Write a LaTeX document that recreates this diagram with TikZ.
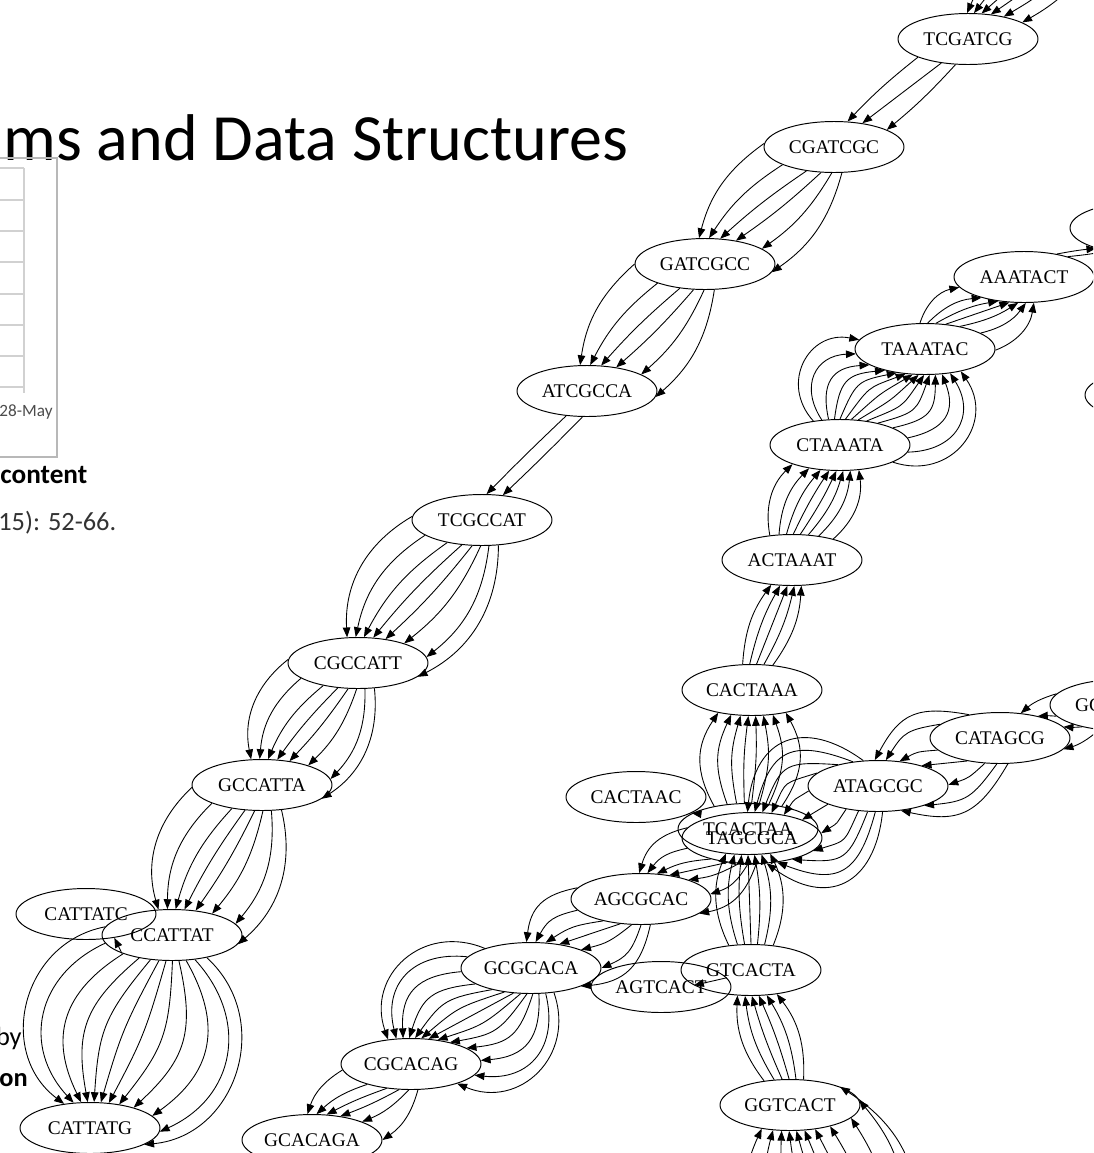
\documentclass[tikz,border=0pt]{standalone}
\usepackage{fontspec}
\setmainfont{Liberation Serif}
\newfontfamily\slidefont{Carlito}
\usetikzlibrary{shapes.geometric,arrows.meta}

\tikzset{
  kmer/.style={ellipse,draw,line width=0.55pt,minimum width=2.8cm,minimum height=1.02cm,
    inner sep=0pt,font=\fontsize{11}{12}\selectfont},
  edge/.style={-{Triangle[length=5.6pt,width=4.3pt]},line width=0.5pt},
  chartline/.style={draw=black!18,line width=0.6pt},
  slide/.style={inner sep=0pt,text=black!80}
}
% a bundle of parallel edges: src, dst, out angle, in angle, angle step, bend step, offsets
\newcommand{\bundle}[8][]{%
  \foreach \k in {#8}{%
    \pgfmathtruncatemacro\ao{mod(#4+\k*#6+720,360)}%
    \pgfmathtruncatemacro\ai{mod(#5-\k*#6+720,360)}%
    \pgfmathsetmacro\bd{\k*#7}%
    \draw[edge,#1] (#2.\ao) to[bend left=\bd] (#3.\ai);}}

\begin{document}
\begin{tikzpicture}[x=0.02cm,y=0.02cm]
\useasboundingbox (0,0) rectangle (1093,-1153);
\clip (0,0) rectangle (1093,-1153);

% slide behind the graph
\node[slide,anchor=base west,text=black,font=\slidefont\fontsize{37.6}{40}\selectfont] (title) at (3,-160) {ms and Data Structures};
\draw[draw=black!28,line width=0.6pt] (-20,-158) rectangle (57,-457);
\foreach \gy in {168,200,231,262,294,325,356,387}
  \draw[chartline] (-20,-\gy) -- (24,-\gy);
\draw[chartline] (24,-168) -- (24,-393);
\node[slide,text=black!70,font=\slidefont\fontsize{9.8}{11}\selectfont] (may) at (26,-412) {28-May};
\node[slide,anchor=base west,text=black,font=\slidefont\bfseries\fontsize{15.5}{17}\selectfont] (content) at (0,-483) {content};
\node[slide,anchor=base west,font=\slidefont\fontsize{15}{18}\selectfont] (pages) at (-2,-530) {15): 52-66.};
\node[slide,anchor=base east,text=black,font=\slidefont\fontsize{15}{18}\selectfont] (by) at (22,-1045) {by};
\node[slide,anchor=base east,text=black,font=\slidefont\bfseries\fontsize{15}{18}\selectfont] (on) at (28,-1086) {on};

% k-mer nodes
\node[kmer] (TCGATCG) at (968,-39) {TCGATCG};
\node[kmer] (CGATCGC) at (834,-147) {CGATCGC};
\node[kmer] (GATCGCC) at (705,-264) {GATCGCC};
\node[kmer] (ATCGCCA) at (587,-391) {ATCGCCA};
\node[kmer] (TCGCCAT) at (482,-520) {TCGCCAT};
\node[kmer] (CGCCATT) at (358,-663) {CGCCATT};
\node[kmer] (GCCATTA) at (262,-785) {GCCATTA};
\node[kmer] (CATTATC) at (86,-914) {CATTATC};
\node[kmer] (CCATTAT) at (172,-935) {CCATTAT};
\node[kmer] (CATTATG) at (90,-1128) {CATTATG};
\node[kmer] (GCACAGA) at (312,-1140) {GCACAGA};
\node[kmer] (CGCACAG) at (411,-1064) {CGCACAG};
\node[kmer] (GCGCACA) at (531,-968) {GCGCACA};
\node[kmer] (AGTCACT) at (661,-987) {AGTCACT};
\node[kmer] (AGCGCAC) at (641,-899) {AGCGCAC};
\node[kmer] (CACTAAC) at (636,-797) {CACTAAC};
\node[kmer] (TCACTAA) at (748,-829) {TCACTAA};
\node[kmer] (TAGCGCA) at (752,-838) {TAGCGCA};
\node[kmer] (ATAGCGC) at (878,-786) {ATAGCGC};
\node[kmer] (CATAGCG) at (1000,-738) {CATAGCG};
\node[kmer] (GCATAGC) at (1120,-705) {GCATAGC};
\node[kmer] (CACTAAA) at (752,-690) {CACTAAA};
\node[kmer] (ACTAAAT) at (792,-560) {ACTAAAT};
\node[kmer] (CTAAATA) at (840,-445) {CTAAATA};
\node[kmer] (TAAATAC) at (925,-349) {TAAATAC};
\node[kmer] (AAATACT) at (1024,-277) {AAATACT};
\node[kmer] (AATACTn) at (1140,-228) {};
\node[kmer] (rightlow) at (1155,-395) {};
\node[kmer] (GTCACTA) at (751,-970) {GTCACTA};
\node[kmer] (GGTCACT) at (790,-1105) {GGTCACT};
% neighbours outside the frame
\node[kmer] (ATCGATC) at (1110,85) {};
\node[kmer] (ATTATGn) at (45,-1290) {};
\node[kmer] (CACAGAn) at (225,-1275) {};
\node[kmer] (AGGTCAC) at (860,-1280) {};

% left strand
\bundle{ATCGATC}{TCGATCG}{222}{55}{15}{6}{-2.5,-1.5,-0.5,0.5,1.5,2.5}
\bundle{TCGATCG}{CGATCGC}{222}{40}{22}{4}{-1,0,1}
\bundle{CGATCGC}{GATCGCC}{232}{48}{22}{8}{-2.5,-1.5,-0.5,0.5,1.5,2.5}
\bundle{GATCGCC}{ATCGCCA}{235}{50}{22}{8}{-2.5,-1.5,-0.5,0.5,1.5,2.5}
\bundle{ATCGCCA}{TCGCCAT}{245}{65}{30}{2}{-0.5,0.5}
\bundle{TCGCCAT}{CGCCATT}{240}{50}{18}{9}{-3.5,-2.5,-1.5,-0.5,0.5,1.5,2.5,3.5}
\bundle{CGCCATT}{GCCATTA}{240}{50}{18}{9}{-3.5,-2.5,-1.5,-0.5,0.5,1.5,2.5,3.5}
\bundle{GCCATTA}{CCATTAT}{245}{55}{18}{9}{-3.5,-2.5,-1.5,-0.5,0.5,1.5,2.5,3.5}
\draw[edge] (CCATTAT.200) -- (CATTATC.-40);
\bundle[looseness=1.2]{CCATTAT}{CATTATG}{250}{60}{14}{12}{-5.5,-4.5,-3.5,-2.5,-1.5,-0.5,0.5,1.5,2.5,3.5,4.5,5.5}
\bundle{CATTATG}{ATTATGn}{260}{80}{12}{5}{-2.5,-1.5,-0.5,0.5,1.5,2.5}

% right strand
\bundle[looseness=1.1]{AGGTCAC}{GGTCACT}{100}{300}{16}{7}{-5,-4,-3,-2,-1,0,1,2,3,4,5}
\bundle{GGTCACT}{GTCACTA}{100}{280}{15}{8}{-2.5,-1.5,-0.5,0.5,1.5,2.5}
\draw[edge] (AGTCACT.8) -- (GTCACTA.195);
\bundle{GTCACTA}{TCACTAA}{90}{270}{14}{8}{-3,-2,-1,0,1,2,3}
\draw[edge] (TCACTAA.164) -- (CACTAAC.-16);
\bundle[looseness=1.1]{TCACTAA}{CACTAAA}{90}{270}{16}{9}{-3.5,-2.5,-1.5,-0.5,0.5,1.5,2.5,3.5}
\bundle{CACTAAA}{ACTAAAT}{80}{260}{15}{8}{-2,-1,0,1,2}
\bundle{ACTAAAT}{CTAAATA}{80}{255}{15}{8}{-3.5,-2.5,-1.5,-0.5,0.5,1.5,2.5,3.5}
\bundle[looseness=1.4]{CTAAATA}{TAAATAC}{60}{250}{12}{11}{-6.5,-5.5,-4.5,-3.5,-2.5,-1.5,-0.5,0.5,1.5,2.5,3.5,4.5,5.5,6.5}
\bundle{TAAATAC}{AAATACT}{50}{240}{17}{10}{-3,-2,-1,0,1,2,3}
\bundle{AAATACT}{AATACTn}{30}{210}{10}{5}{-0.5,0.5}

% crossing strand
\bundle{GCATAGC}{CATAGCG}{200}{20}{20}{8}{-1.5,-0.5,0.5,1.5}
\bundle[looseness=1.3]{CATAGCG}{ATAGCGC}{215}{25}{24}{12}{-3,-2,-1,0,1,2,3}
\bundle[looseness=1.5]{ATAGCGC}{TAGCGCA}{200}{20}{16}{12}{-5,-4,-3,-2,-1,0,1,2,3,4,5}
\bundle[looseness=1.1]{TAGCGCA}{AGCGCAC}{225}{40}{18}{10}{-3,-2,-1,0,1,2,3}
\bundle[looseness=1.2]{AGCGCAC}{GCGCACA}{230}{40}{20}{12}{-3,-2,-1,0,1,2,3}
\bundle[looseness=1.3]{GCGCACA}{CGCACAG}{235}{55}{13}{11}{-6,-5,-4,-3,-2,-1,0,1,2,3,4,5,6}
\bundle{CGCACAG}{GCACAGA}{235}{50}{20}{8}{-2.5,-1.5,-0.5,0.5,1.5,2.5}
\bundle[looseness=1.3]{GCACAGA}{CACAGAn}{240}{60}{18}{12}{-2.5,-1.5,-0.5,0.5,1.5,2.5}
\end{tikzpicture}
\end{document}
